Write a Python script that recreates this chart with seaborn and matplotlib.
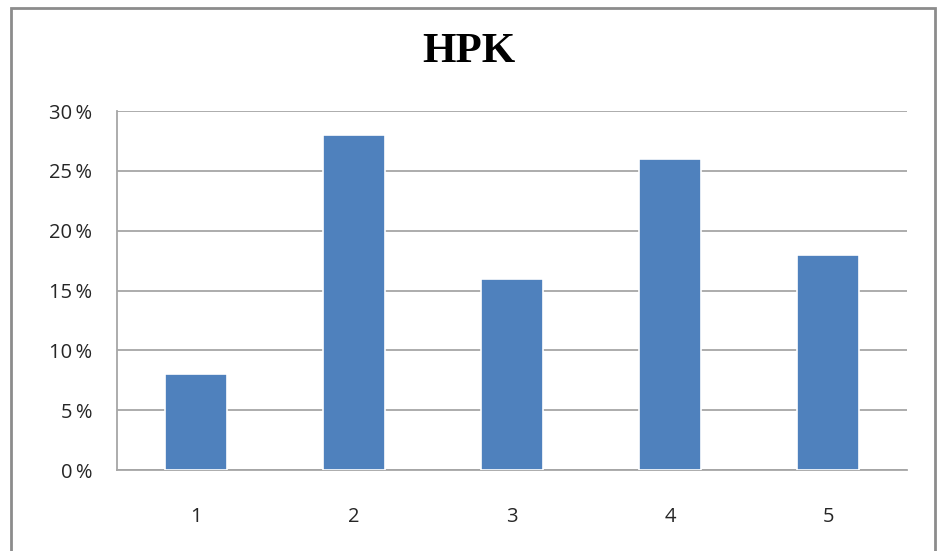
import pandas as pd
import seaborn as sns
import matplotlib.pyplot as plt
from matplotlib.patches import Rectangle
from matplotlib.ticker import FuncFormatter

# data
categories = ["1", "2", "3", "4", "5"]
values = [8, 28, 16, 26, 18]
title = "HPK"

df = pd.DataFrame({"cat": categories, "value": values})

sns.set_style("white")
plt.rcParams["font.family"] = ["Open Sans", "DejaVu Sans"]

fig = plt.figure(figsize=(9.38, 5.51), dpi=100)
ax = fig.add_axes([117 / 938, 1 - 470 / 551, 790 / 938, 359 / 551])

sns.barplot(
    data=df,
    x="cat",
    y="value",
    ax=ax,
    color="#4f81bd",
    saturation=1,
    width=0.39,
    edgecolor="white",
    linewidth=1.2,
    zorder=3,
)

ax.set_ylim(0, 30)
ax.set_yticks(range(0, 31, 5))
ax.yaxis.set_major_formatter(FuncFormatter(lambda v, p: f"{int(v)}\u2009%"))
ax.grid(axis="y", color="#a6a6a6", linewidth=1.3, zorder=0)
ax.set_axisbelow(True)
ax.set_xlabel("")
ax.set_ylabel("")

for side in ["top", "right"]:
    ax.spines[side].set_visible(False)
ax.spines["left"].set_color("#a6a6a6")
ax.spines["bottom"].set_color("#a6a6a6")
ax.spines["left"].set_linewidth(1.3)
ax.spines["bottom"].set_linewidth(1.3)

ax.tick_params(axis="y", length=0, pad=18, labelsize=14.5, labelcolor="#262626")
ax.tick_params(axis="x", length=0, pad=27, labelsize=14.5, labelcolor="#262626")

fig.text(0.5, 1 - 52 / 551, title, ha="center", va="center",
         family="Liberation Serif", weight="bold", fontsize=31, color="black")

# outer chart frame
fig.patches.append(Rectangle((11 / 938, -0.05), 924 / 938, 1.05 - 8 / 551,
                             transform=fig.transFigure, fill=False,
                             edgecolor="#8c8c8c", linewidth=2))

fig.savefig("out.png", dpi=100)
